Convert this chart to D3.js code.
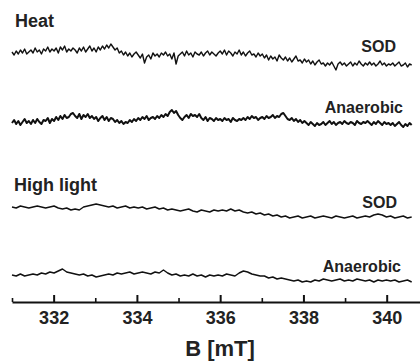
<!DOCTYPE html>
<html>
<head>
<meta charset="utf-8">
<script src="https://cdn.jsdelivr.net/npm/d3@7"></script>
<style>
  html, body { margin: 0; padding: 0; background: #fff; }
  svg { display: block; font-family: 'Liberation Sans', Arial, sans-serif; }
</style>
</head>
<body>
<svg id="chart" width="420" height="363"></svg>
<script>
// magnetic field range of the sweep (mT)
const fieldStart = 331.0;
const fieldEnd = 340.6;

// EPR signal, arbitrary units (positive = up)
const heatSOD = [
  5, 2, 6, 3, 7, 4, 8, 3, 5, 7,
  4, 9, 5, 7, 3, 8, 6, 10, 5, 8,
  6, 9, 4, 10, 7, 11, 5, 8, 6, 9,
  7, 4, 9, 6, 10, 5, 8, 11, 6, 9,
  5, 10, 7, 11, 8, 12, 9, 13, 10, 7,
  9, 4, 6, 2, 5, 1, 4, 0, 3, 5,
  2, -1, 3, -6, 0, 2, -2, 4, 1, 3,
  0, 4, 2, 5, 1, 3, -2, 4, -7, 1,
  3, 5, 1, 6, 2, 4, 0, 5, 3, 2,
  5, 1, 4, 6, 2, 5, 3, 1, 4, 6,
  3, 7, 2, 6, 4, 1, 5, 3, 7, 2,
  5, 1, 4, 6, 2, 3, 0, 4, 1, 3,
  -1, 2, -3, 1, -2, 0, -4, 2, -1, -3,
  0, -4, -1, -5, -2, 1, -4, -3, -6, -2,
  -5, -3, -7, -4, -8, -5, -3, -7, -6, -9,
  -6, -8, -5, -9, -13, -7, -5, -8, -6, -9,
  -7, -5, -9, -6, -8, -4, -7, -9, -6, -8,
  -5, -8, -6, -9, -7, -4, -8, -6, -9, -7,
  -8, -6, -9, -7, -5, -9, -8, -6, -10, -7,
  -8
];

const heatAnaerobic = [
  -3, 0, -4, -1, -5, -2, 1, -3, -1, -4,
  0, -3, 1, -2, -4, 0, -1, 2, -3, 1,
  -1, 3, 0, 4, 1, 5, 2, 3, 6, 7,
  4, 2, 6, 1, 5, 3, 6, 2, 4, 1,
  3, -1, 2, 4, 0, 3, -1, 2, 1, -2,
  0, -3, -1, -4, -2, -3, 0, -2, 1, -1,
  2, 0, 3, 1, 4, 0, 2, 3, 1, 4,
  2, 5, 3, 6, 4, 8, 10, 7, 9, 5,
  2, 0, 3, 5, 2, 6, 4, 5, 3, 6,
  2, 0, 3, -1, 2, 1, -1, 2, 0, 1,
  -1, 2, 0, 1, -2, 2, 0, -1, 1, 0,
  2, 0, 3, 1, 4, 2, 3, 0, 2, 3,
  1, 4, 2, 3, 5, 2, 4, 3, 6, 7,
  4, 1, 0, 2, -1, 1, -2, 0, -3, -1,
  -3, -5, -2, -4, -6, -3, -5, -4, -2, -5,
  -3, -1, -4, -2, -5, -3, -2, -4, -1, -3,
  -4, -2, -3, -5, -1, -3, -4, -2, -3, -1,
  -3, -5, -2, -4, -1, -3, -5, -2, -4, -3,
  -5, -3, -6, -4, -2, -5, -7, -4, -6, -3,
  -5
];

const lightSOD = [
  4, 3, 5, 4, 3, 4, 5, 4, 3, 4,
  5, 3, 2, 3, 1, 2, 1, 4, 5, 6,
  7, 6, 5, 4, 5, 3, 4, 5, 3, 4,
  3, 4, 2, 3, 4, 2, 3, 1, 2, 1,
  0, 1, 2, 0, -1, 1, 0, -1, 1, 0,
  1, 0, 2, 0, 1, -1, -2, -1, -3, -2,
  -4, -3, -5, -4, -6, -5, -7, -6, -5, -7,
  -6, -5, -7, -6, -5, -6, -7, -5, -6, -7,
  -6, -5, -7, -6, -5, -6, -4, -3, -4, -6,
  -5, -7, -6, -5, -7, -6
];

const lightAnaerobic = [
  2, 1, 3, 1, 2, 3, 2, 4, 3, 5,
  4, 6, 8, 5, 4, 3, 2, 3, 1, 2,
  0, 1, 2, 3, 2, 4, 3, 4, 5, 3,
  4, 5, 4, 3, 5, 4, 7, 4, 2, 3,
  1, 2, 1, 3, 1, 2, 0, 2, 1, 2,
  1, 3, 2, 1, 4, 6, 5, 3, 2, 1,
  1, -1, 0, -2, -1, -2, -3, -4, -3, -5,
  -4, -5, -3, -4, -2, -3, -4, -3, -2, -4,
  -3, -4, -2, -3, -4, -3, -5, -3, -4, -3,
  -4, -3, -5, -4, -3, -5
];

const majorTicks = [332, 334, 336, 338, 340];
const minorTicks = [331, 333, 335, 337, 339];

const svg = d3.select('#chart');

const x = d3.scaleLinear().domain([331, 340.8]).range([12, 420]);

const traces = [
  { values: heatSOD, center: 57, width: 1.4, label: 'SOD', lx: 396, ly: 52 },
  { values: heatAnaerobic, center: 120, width: 2.0, label: 'Anaerobic', lx: 403, ly: 113 },
  { values: lightSOD, center: 211, width: 1.4, label: 'SOD', lx: 397, ly: 208 },
  { values: lightAnaerobic, center: 277, width: 1.5, label: 'Anaerobic', lx: 401, ly: 272 }
];

traces.forEach(t => {
  const n = t.values.length;
  const field = d3.scaleLinear().domain([0, n - 1]).range([fieldStart, fieldEnd]);
  const y = d3.scaleLinear().domain([-20, 20]).range([t.center + 20, t.center - 20]);
  const line = d3.line()
    .x((d, i) => x(field(i)))
    .y(d => y(d));

  svg.append('path')
    .datum(t.values)
    .attr('fill', 'none')
    .attr('stroke', '#111')
    .attr('stroke-width', t.width)
    .attr('stroke-linejoin', 'round')
    .attr('d', line);

  svg.append('text')
    .attr('x', t.lx)
    .attr('y', t.ly)
    .attr('text-anchor', 'end')
    .attr('font-size', 16)
    .attr('font-weight', 'bold')
    .attr('fill', '#222')
    .text(t.label);
});

// panel titles
svg.append('text')
  .attr('x', 15).attr('y', 27)
  .attr('font-size', 18).attr('font-weight', 'bold').attr('fill', '#222')
  .text('Heat');

svg.append('text')
  .attr('x', 14).attr('y', 191)
  .attr('font-size', 18).attr('font-weight', 'bold').attr('fill', '#222')
  .text('High light');

// x axis
const axisY = 302;

const gMajor = svg.append('g')
  .attr('transform', `translate(0,${axisY})`)
  .call(d3.axisTop(x).tickValues(majorTicks).tickSize(7).tickSizeOuter(0).tickFormat(''));
gMajor.select('.domain').attr('stroke', '#111').attr('stroke-width', 2);
gMajor.selectAll('.tick line').attr('stroke', '#111').attr('stroke-width', 2);

const gMinor = svg.append('g')
  .attr('transform', `translate(0,${axisY})`)
  .call(d3.axisTop(x).tickValues(minorTicks).tickSize(4).tickSizeOuter(0).tickFormat(''));
gMinor.select('.domain').remove();
gMinor.selectAll('.tick line').attr('stroke', '#111').attr('stroke-width', 1.6);

const gLabels = svg.append('g')
  .attr('transform', `translate(0,${axisY})`)
  .call(d3.axisBottom(x).tickValues(majorTicks).tickSize(0).tickPadding(9).tickFormat(d3.format('d')));
gLabels.select('.domain').remove();
gLabels.selectAll('.tick text')
  .attr('font-family', "'Liberation Sans', Arial, sans-serif")
  .attr('font-size', 18)
  .attr('font-weight', 'bold')
  .attr('fill', '#222');

svg.append('text')
  .attr('x', 220).attr('y', 356)
  .attr('text-anchor', 'middle')
  .attr('font-size', 22).attr('font-weight', 'bold').attr('fill', '#222')
  .text('B [mT]');
</script>
</body>
</html>
